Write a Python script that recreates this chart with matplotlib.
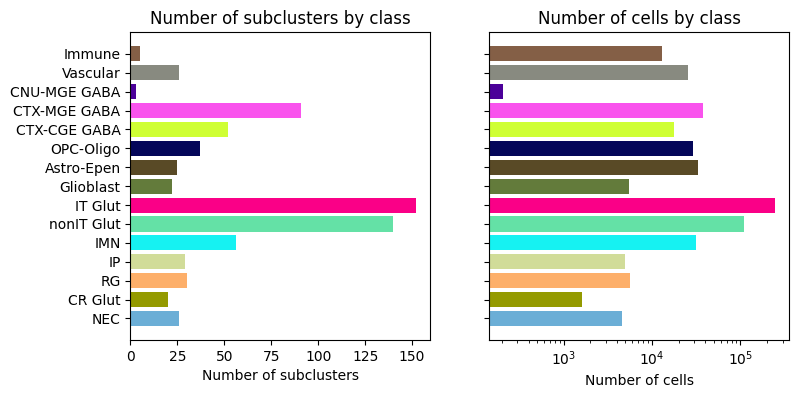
import matplotlib.pyplot as plt

classes = ["NEC", "CR Glut", "RG", "IP", "IMN", "nonIT Glut", "IT Glut", "Glioblast",
           "Astro-Epen", "OPC-Oligo", "CTX-CGE GABA", "CTX-MGE GABA", "CNU-MGE GABA",
           "Vascular", "Immune"]
n_subclusters = [26, 20, 30, 29, 56, 140, 152, 22, 25, 37, 52, 91, 3, 26, 5]
n_cells = [4600, 1610, 5650, 4960, 31800, 111000, 249000, 5530, 32700, 29400,
           17500, 38200, 205, 25800, 13100]
colors = ["#6BAED6", "#949A00", "#FDAF6A", "#D1DC99", "#16F2F2", "#64E1A6", "#FA0087",
          "#637B3B", "#594A26", "#040659", "#CFFF34", "#F953ED", "#4B0099",
          "#888A80", "#845F46"]

fig, axes = plt.subplots(1, 2, figsize=(7.98, 3.98), dpi=100, sharey=True)
fig.subplots_adjust(left=0.1633, right=0.9888, bottom=0.1457, top=0.9188, wspace=0.197)

ax = axes[0]
ax.barh(classes, n_subclusters, color=colors)
ax.set_title("Number of subclusters by class")
ax.set_xlabel("Number of subclusters")

ax = axes[1]
ax.barh(classes, n_cells, color=colors)
ax.set_xscale("log")
ax.set_title("Number of cells by class")
ax.set_xlabel("Number of cells")

fig.savefig("out.png", dpi=100)
